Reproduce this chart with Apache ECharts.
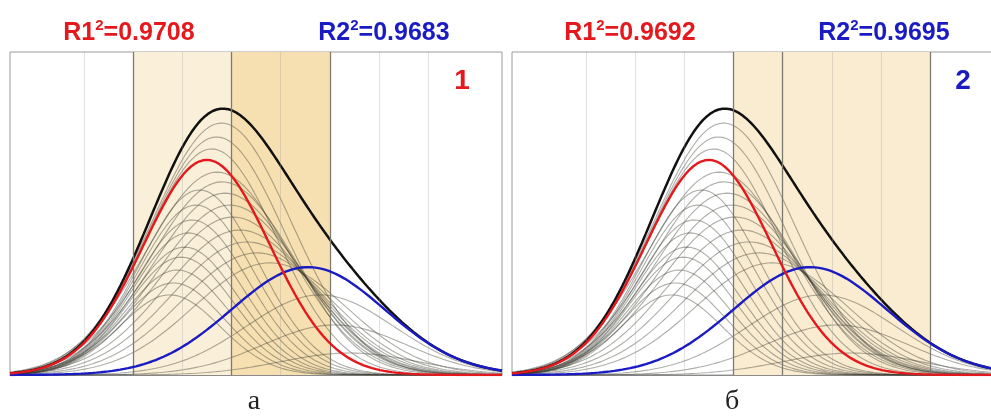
<!DOCTYPE html>
<html>
<head>
<meta charset="utf-8">
<script src="https://cdn.jsdelivr.net/npm/echarts@6/dist/echarts.min.js"></script>
<style>
  html, body { margin: 0; padding: 0; background: #ffffff; overflow: hidden; }
  /* the second panel runs past the right edge of the window */
  #chart { width: 1010px; height: 417px; }
</style>
</head>
<body>
<div id="chart"></div>
<script>
// ---- Data -----------------------------------------------------------------
// Best two-component fit: [centre, peak height, sigma]
const redComponent  = [4.0, 66.6, 1.28];
const blueComponent = [6.06, 33.4, 1.56];

// Alternative component curves from the other trial decompositions
const trialCenters = [3.25, 4.21, 3.32, 4.31, 3.40, 4.37, 3.48, 4.47, 3.55, 4.53,
                      3.62, 4.67, 3.70, 4.82, 3.78, 5.02, 3.85, 5.28,
                      4.10, 6.30, 4.20, 6.60, 4.30, 6.90];
const trialHeights = [24.8, 62.8, 28.5, 59.8, 32.5, 56.3, 36.5, 52.6, 39.6, 48.9,
                      44.0, 44.9, 48.0, 41.2, 52.6, 37.8, 57.3, 34.7,
                      70.0, 24.8, 73.7, 15.5, 78.0, 6.8];
const trialSigmas  = [1.02, 1.45, 1.04, 1.46, 1.06, 1.47, 1.08, 1.48, 1.10, 1.50,
                      1.12, 1.51, 1.15, 1.52, 1.18, 1.53, 1.20, 1.55,
                      1.32, 1.50, 1.37, 1.45, 1.42, 1.40];

// Coefficients of determination per panel
const panelR2 = [['0.9708', '0.9683'], ['0.9692', '0.9695']];
const panelNumbers = ['1', '2'];
const panelCaptions = ['а', 'б'];

// Grid line positions and the partition bands of each panel
const gridPositions = [1.5, 2.5, 3.5, 4.5, 5.5, 6.5, 7.5, 8.5];
const panelBands = [[[2.5, 4.5], [4.5, 6.5]], [[4.5, 8.5]]];
const panelBoundaries = [[2.5, 4.5, 6.5], [4.5, 5.5, 8.5]];

// ---- Helpers --------------------------------------------------------------
const X_MIN = 0, X_MAX = 10, STEP = 0.04;
const xs = [];
for (let x = X_MIN; x <= X_MAX + 1e-9; x += STEP) xs.push(+x.toFixed(4));

function gaussian(c, h, s) {
  return xs.map(x => [x, h * Math.exp(-((x - c) * (x - c)) / (2 * s * s))]);
}
const redCurve = gaussian(redComponent[0], redComponent[1], redComponent[2]);
const blueCurve = gaussian(blueComponent[0], blueComponent[1], blueComponent[2]);
const sumCurve = redCurve.map((p, i) => [p[0], p[1] + blueCurve[i][1]]);
const trialCurves = trialCenters.map((c, i) => gaussian(c, trialHeights[i], trialSigmas[i]));

// ---- Styles ---------------------------------------------------------------
const bandColors = [['#faefd8', '#f6e0b2'], ['#faecd1']];
const RED = '#e5191d', BLUE = '#1b1bc4';
const PANEL_LEFT = [10, 512], PANEL_TOP = 52, PANEL_W = 492, PANEL_H = 323;

const grids = [], xAxes = [], yAxes = [], series = [];
for (let p = 0; p < 2; p++) {
  grids.push({
    left: PANEL_LEFT[p], top: PANEL_TOP, width: PANEL_W, height: PANEL_H,
    show: true, borderColor: '#9a9a9a', borderWidth: 1, backgroundColor: '#ffffff'
  });
  xAxes.push({
    type: 'value', gridIndex: p, min: X_MIN, max: X_MAX,
    axisLine: { show: true, lineStyle: { color: '#8a8a8a', width: 1 } },
    axisTick: { show: false }, axisLabel: { show: false }, splitLine: { show: false }
  });
  yAxes.push({
    type: 'value', gridIndex: p, min: 0, max: 100,
    axisLine: { show: false }, axisTick: { show: false },
    axisLabel: { show: false }, splitLine: { show: false }
  });

  // shaded partition bands
  series.push({
    type: 'line', xAxisIndex: p, yAxisIndex: p, z: 1, silent: true,
    data: [[X_MIN, 0], [X_MAX, 0]], showSymbol: false,
    lineStyle: { width: 0 },
    markArea: {
      silent: true,
      data: panelBands[p].map((b, i) => [
        { xAxis: b[0], itemStyle: { color: bandColors[p][i] } },
        { xAxis: b[1] }
      ])
    }
  });
  // light grid lines
  series.push({
    type: 'line', xAxisIndex: p, yAxisIndex: p, z: 2, silent: true,
    data: [], showSymbol: false,
    markLine: {
      silent: true, symbol: 'none', label: { show: false },
      lineStyle: { color: 'rgba(150,150,150,0.28)', width: 1, type: 'solid' },
      data: gridPositions.filter(g => panelBoundaries[p].indexOf(g) < 0).map(g => ({ xAxis: g }))
    }
  });
  // band boundary lines
  series.push({
    type: 'line', xAxisIndex: p, yAxisIndex: p, z: 2, silent: true,
    data: [], showSymbol: false,
    markLine: {
      silent: true, symbol: 'none', label: { show: false },
      lineStyle: { color: '#7d7b70', width: 1.3, type: 'solid' },
      data: panelBoundaries[p].map(g => ({ xAxis: g }))
    }
  });
  // trial component curves
  trialCurves.forEach(curve => {
    series.push({
      type: 'line', xAxisIndex: p, yAxisIndex: p, z: 3, silent: true,
      data: curve, showSymbol: false,
      lineStyle: { color: 'rgba(60,60,50,0.42)', width: 1.1 }
    });
  });
  // total envelope and the two fitted components
  series.push({
    type: 'line', xAxisIndex: p, yAxisIndex: p, z: 4, silent: true,
    data: sumCurve, showSymbol: false, lineStyle: { color: '#111111', width: 2.5 }
  });
  series.push({
    type: 'line', xAxisIndex: p, yAxisIndex: p, z: 5, silent: true,
    data: blueCurve, showSymbol: false, lineStyle: { color: BLUE, width: 2.4 }
  });
  series.push({
    type: 'line', xAxisIndex: p, yAxisIndex: p, z: 6, silent: true,
    data: redCurve, showSymbol: false, lineStyle: { color: RED, width: 2.4 }
  });
}

// ---- Text -----------------------------------------------------------------
const headFont = '"Liberation Sans", Arial, sans-serif';
function r2Label(x, idx, value, color) {
  return {
    type: 'text', x: x, y: 18, z: 100,
    style: {
      text: '{a|R' + idx + '}{s|2}{a|=' + value + '}',
      align: 'center', verticalAlign: 'top',
      rich: {
        a: { fontFamily: headFont, fontWeight: 'bold', fontSize: 25, lineHeight: 30, fill: color, color: color },
        s: { fontFamily: headFont, fontWeight: 'bold', fontSize: 15, lineHeight: 22, verticalAlign: 'top', fill: color, color: color }
      }
    }
  };
}
const graphics = [
  r2Label(129, 1, panelR2[0][0], RED),
  r2Label(384, 2, panelR2[0][1], BLUE),
  r2Label(630, 1, panelR2[1][0], RED),
  r2Label(884, 2, panelR2[1][1], BLUE),
  { type: 'text', x: 462, y: 67, z: 100,
    style: { text: panelNumbers[0], fill: RED, font: 'bold 28px ' + headFont, align: 'center', verticalAlign: 'top' } },
  { type: 'text', x: 963, y: 67, z: 100,
    style: { text: panelNumbers[1], fill: BLUE, font: 'bold 28px ' + headFont, align: 'center', verticalAlign: 'top' } },
  { type: 'text', x: 254, y: 388, z: 100,
    style: { text: panelCaptions[0], fill: '#222', font: '28px "Liberation Serif", "Times New Roman", serif', align: 'center', verticalAlign: 'top' } },
  { type: 'text', x: 732, y: 388, z: 100,
    style: { text: panelCaptions[1], fill: '#222', font: '28px "Liberation Serif", "Times New Roman", serif', align: 'center', verticalAlign: 'top' } }
];

const chart = echarts.init(document.getElementById('chart'), null, { renderer: 'canvas' });
chart.setOption({
  animation: false,
  backgroundColor: '#ffffff',
  grid: grids, xAxis: xAxes, yAxis: yAxes,
  series: series,
  graphic: graphics
});
</script>
</body>
</html>
